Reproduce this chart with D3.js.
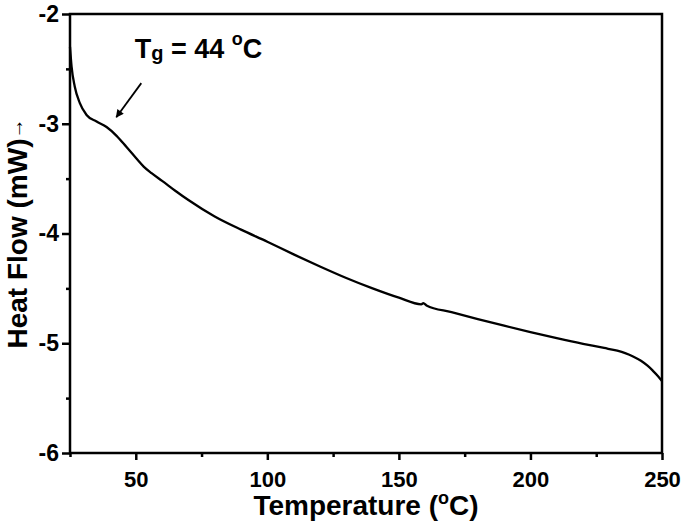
<!DOCTYPE html>
<html>
<head>
<meta charset="utf-8">
<script src="https://cdn.jsdelivr.net/npm/d3@7"></script>
<style>
  html, body { margin: 0; padding: 0; background: #fff; }
  svg { display: block; }
  text { font-family: "Liberation Sans", Arial, sans-serif; font-weight: bold; fill: #000; }
</style>
</head>
<body>
<svg id="chart" width="685" height="524"></svg>
<script>
// ---- data ----
const temperature = [25, 25.6, 26.8, 28.7, 31.3, 35.1, 38.9, 42.7, 46.4, 50, 53, 56, 60, 65, 70, 80, 90, 100, 110, 120, 130, 140, 150, 158.5, 159.3, 160.5, 170, 180, 190, 200, 210, 220, 228, 233, 236, 239, 242, 244.5, 246.5, 248.5, 250];
const heatFlow = [-2.30, -2.48, -2.66, -2.81, -2.92, -2.98, -3.03, -3.11, -3.21, -3.31, -3.39, -3.45, -3.52, -3.61, -3.695, -3.845, -3.965, -4.075, -4.19, -4.30, -4.405, -4.50, -4.585, -4.645, -4.635, -4.655, -4.717, -4.78, -4.84, -4.898, -4.953, -5.005, -5.043, -5.068, -5.09, -5.12, -5.16, -5.205, -5.25, -5.30, -5.345];
const xTicks = [50, 100, 150, 200, 250];
const xMinorTicks = [25, 75, 125, 175, 225];
const yTicks = [-6, -5, -4, -3, -2];
const yMinorTicks = [-5.5, -4.5, -3.5, -2.5];
const annotationText = { label: "T", sub: "g", rest: " = 44 ", sup: "o", unit: "C" };
const annotationAnchor = [49.6, -2.40];
const arrowFrom = [52.1, -2.63];
const arrowTo = [42.6, -2.94];

// ---- layout ----
const svg = d3.select("#chart");
const mLeft = 70, mRight = 662, mTop = 14, mBottom = 453;
const x = d3.scaleLinear().domain([25, 250]).range([mLeft, mRight]);
const y = d3.scaleLinear().domain([-6, -2]).range([mBottom, mTop]);

// frame
svg.append("rect")
  .attr("x", mLeft).attr("y", mTop)
  .attr("width", mRight - mLeft).attr("height", mBottom - mTop)
  .attr("fill", "none").attr("stroke", "#000").attr("stroke-width", 2.5);

function styleAxis(g, size) {
  g.selectAll(".domain").remove();
  g.selectAll("line").attr("stroke", "#000").attr("stroke-width", 2.5);
  g.selectAll("text")
    .style("font-family", '"Liberation Sans", Arial, sans-serif')
    .style("font-weight", "bold").style("font-size", size).attr("fill", "#000");
}

// x axis
const gx = svg.append("g").attr("transform", `translate(0,${mBottom})`);
gx.call(d3.axisBottom(x).tickValues(xTicks).tickSize(7).tickSizeOuter(0).tickPadding(11));
gx.append("g").call(d3.axisBottom(x).tickValues(xMinorTicks).tickSize(4).tickSizeOuter(0).tickFormat(""));
styleAxis(gx, "22px");

// y axis
const gy = svg.append("g").attr("transform", `translate(${mLeft},0)`);
gy.call(d3.axisLeft(y).tickValues(yTicks).tickSize(8).tickSizeOuter(0).tickPadding(3)
  .tickFormat(d => String(d)));
gy.append("g").call(d3.axisLeft(y).tickValues(yMinorTicks).tickSize(4).tickSizeOuter(0).tickFormat(""));
styleAxis(gy, "23px");

// curve
const pts = temperature.map((t, i) => [t, heatFlow[i]]);
svg.append("path")
  .datum(pts)
  .attr("fill", "none").attr("stroke", "#000").attr("stroke-width", 2.3)
  .attr("stroke-linejoin", "round")
  .attr("d", d3.line().x(d => x(d[0])).y(d => y(d[1])).curve(d3.curveMonotoneX));

// axis titles
svg.append("text")
  .attr("x", (mLeft + mRight) / 2).attr("y", 515)
  .attr("text-anchor", "middle").style("font-size", "28px")
  .call(t => {
    t.append("tspan").text("Temperature (");
    t.append("tspan").text("o").style("font-size", "18px").attr("dy", -11);
    t.append("tspan").text("C)").attr("dy", 11);
  });

svg.append("text")
  .attr("transform", `translate(27,${(mTop + mBottom) / 2}) rotate(-90)`)
  .attr("text-anchor", "middle").style("font-size", "28px")
  .call(t => {
    t.append("tspan").text("Heat Flow (mW)");
    t.append("tspan").text("\u2192").style("font-size", "20px").style("font-weight", "normal").attr("dy", -4);
  });

// annotation
svg.append("text")
  .attr("x", x(annotationAnchor[0])).attr("y", y(annotationAnchor[1]))
  .style("font-size", "27px")
  .call(t => {
    t.append("tspan").text(annotationText.label);
    t.append("tspan").text(annotationText.sub).style("font-size", "20px").attr("dy", 2);
    t.append("tspan").text(annotationText.rest).attr("dy", -2);
    t.append("tspan").text(annotationText.sup).style("font-size", "18px").attr("dy", -13);
    t.append("tspan").text(annotationText.unit).attr("dy", 13);
  });

// arrow
svg.append("defs").append("marker")
  .attr("id", "ah").attr("viewBox", "0 0 10 10")
  .attr("refX", 9).attr("refY", 5)
  .attr("markerWidth", 11).attr("markerHeight", 8)
  .attr("markerUnits", "userSpaceOnUse")
  .attr("orient", "auto")
  .append("path").attr("d", "M0,0 L10,5 L0,10 Z").attr("fill", "#000");
svg.append("line")
  .attr("x1", x(arrowFrom[0])).attr("y1", y(arrowFrom[1]))
  .attr("x2", x(arrowTo[0])).attr("y2", y(arrowTo[1]))
  .attr("stroke", "#000").attr("stroke-width", 1.8)
  .attr("marker-end", "url(#ah)");
</script>
</body>
</html>
